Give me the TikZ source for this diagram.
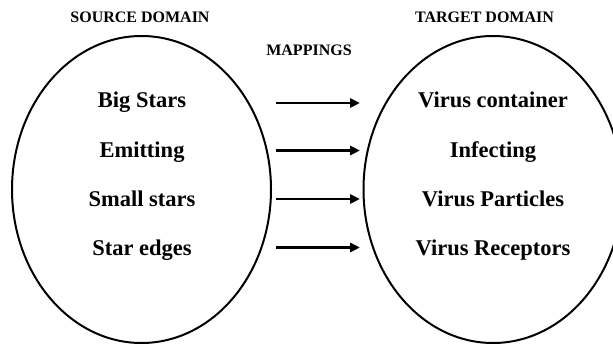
\documentclass[tikz,border=0pt]{standalone}
\usepackage{fontspec}
\setmainfont{Liberation Serif}
\usetikzlibrary{shapes.geometric,arrows.meta}
\begin{document}
\begin{tikzpicture}[x=1pt,y=-1pt,
  domainbox/.style={draw=black,line width=2pt,ellipse,minimum width=259pt,minimum height=307pt,inner sep=0pt},
  itemlabel/.style={anchor=base,inner sep=0pt,font=\fontsize{22.5}{27}\selectfont\bfseries},
  headerlabel/.style={anchor=base,inner sep=0pt,font=\fontsize{16}{19}\selectfont\bfseries},
  maparrow/.style={line width=2.8pt,-{Triangle[length=10pt,width=9pt]}}]
\useasboundingbox (0,0) rectangle (613,347);
\clip (0,0) rectangle (613,347);
\node[domainbox] (src) at (141.5,189.5) {};
\node[domainbox] (tgt) at (493,189.5) {};
\node[headerlabel] (hs) at (140,23) {SOURCE DOMAIN};
\node[headerlabel] (hm) at (309,56) {MAPPINGS};
\node[headerlabel] (ht) at (484.5,23) {TARGET DOMAIN};
\node[itemlabel] (l1) at (142,108) {Big Stars};
\node[itemlabel] (l2) at (142,157.5) {Emitting};
\node[itemlabel] (l3) at (142,207) {Small stars};
\node[itemlabel] (l4) at (142,256) {Star edges};
\node[itemlabel] (r1) at (493,108) {Virus container};
\node[itemlabel] (r2) at (493,157.5) {Infecting};
\node[itemlabel] (r3) at (493,207) {Virus Particles};
\node[itemlabel] (r4) at (493,256) {Virus Receptors};
\coordinate (s1) at (276,103);   \coordinate (e1) at (360,103);
\coordinate (s2) at (276,150.5); \coordinate (e2) at (360,150.5);
\coordinate (s3) at (276,199);   \coordinate (e3) at (360,199);
\coordinate (s4) at (276,247.5); \coordinate (e4) at (360,247.5);
\draw[maparrow] (s1) -- (e1);
\draw[maparrow] (s2) -- (e2);
\draw[maparrow] (s3) -- (e3);
\draw[maparrow] (s4) -- (e4);
\end{tikzpicture}
\end{document}
